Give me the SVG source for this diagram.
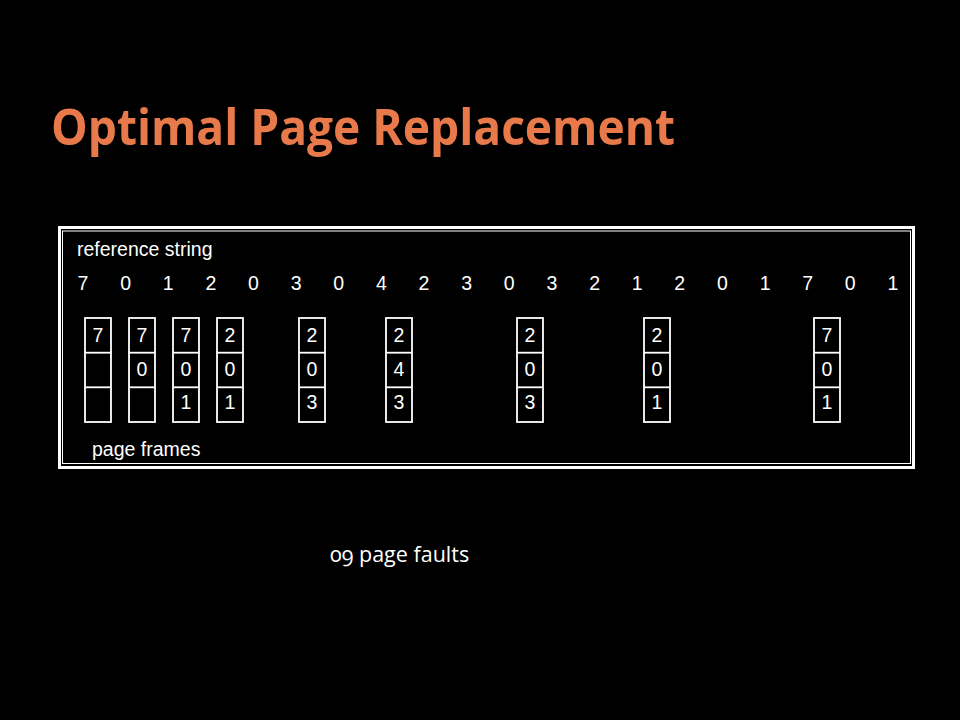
<svg xmlns="http://www.w3.org/2000/svg" width="960" height="720" viewBox="0 0 960 720">
  <style>
    .title { font-family: "Open Sans", "Noto Sans", sans-serif; font-weight: 700; font-size: 50px; fill: #E8794B; }
    .lbl { font-family: "Liberation Sans", Arial, sans-serif; font-size: 19.5px; fill: #ffffff; }
    .ref { font-family: "Liberation Sans", Arial, sans-serif; font-size: 19.5px; fill: #ffffff; text-anchor: middle; }
    .cell { font-family: "Liberation Sans", Arial, sans-serif; font-size: 19.5px; fill: #ffffff; text-anchor: middle; }
    .box { fill: none; stroke: #ffffff; stroke-width: 1.8; }
    .note { font-family: "Open Sans", "Noto Sans", sans-serif; font-size: 21.5px; fill: #ffffff; font-variant-numeric: oldstyle-nums; }
  </style>
  <defs>
    <!-- one column of three page frames -->
    <g id="frameCol">
      <rect class="box" x="0" y="0" width="26" height="104"/>
      <line class="box" x1="0" y1="34.7" x2="26" y2="34.7"/>
      <line class="box" x1="0" y1="69.3" x2="26" y2="69.3"/>
    </g>
  </defs>

  <rect x="0" y="0" width="960" height="720" fill="#000000"/>

  <text class="title" x="51" y="145" textLength="624" lengthAdjust="spacingAndGlyphs">Optimal Page Replacement</text>

  <!-- double border of the panel -->
  <g id="panel">
    <rect x="59.5" y="227.5" width="854" height="240" fill="none" stroke="#ffffff" stroke-width="3"/>
    <rect x="62.5" y="231" width="848" height="232.5" fill="none" stroke="#ffffff" stroke-width="1"/>
  </g>

  <text class="lbl" x="77" y="256">reference string</text>

  <g id="refString">
    <text class="ref" x="83" y="290">7</text>
    <text class="ref" x="125.6" y="290">0</text>
    <text class="ref" x="168.3" y="290">1</text>
    <text class="ref" x="210.9" y="290">2</text>
    <text class="ref" x="253.5" y="290">0</text>
    <text class="ref" x="296.2" y="290">3</text>
    <text class="ref" x="338.8" y="290">0</text>
    <text class="ref" x="381.4" y="290">4</text>
    <text class="ref" x="424" y="290">2</text>
    <text class="ref" x="466.7" y="290">3</text>
    <text class="ref" x="509.3" y="290">0</text>
    <text class="ref" x="551.9" y="290">3</text>
    <text class="ref" x="594.6" y="290">2</text>
    <text class="ref" x="637.2" y="290">1</text>
    <text class="ref" x="679.8" y="290">2</text>
    <text class="ref" x="722.5" y="290">0</text>
    <text class="ref" x="765.1" y="290">1</text>
    <text class="ref" x="807.7" y="290">7</text>
    <text class="ref" x="850.3" y="290">0</text>
    <text class="ref" x="893" y="290">1</text>
  </g>

  <g id="f1" transform="translate(85,318)">
    <use href="#frameCol"/>
    <text class="cell" x="13" y="24">7</text>
  </g>
  <g id="f2" transform="translate(129,318)">
    <use href="#frameCol"/>
    <text class="cell" x="13" y="24">7</text>
    <text class="cell" x="13" y="57.5">0</text>
  </g>
  <g id="f3" transform="translate(173,318)">
    <use href="#frameCol"/>
    <text class="cell" x="13" y="24">7</text>
    <text class="cell" x="13" y="57.5">0</text>
    <text class="cell" x="13" y="91">1</text>
  </g>
  <g id="f4" transform="translate(217,318)">
    <use href="#frameCol"/>
    <text class="cell" x="13" y="24">2</text>
    <text class="cell" x="13" y="57.5">0</text>
    <text class="cell" x="13" y="91">1</text>
  </g>
  <g id="f5" transform="translate(299,318)">
    <use href="#frameCol"/>
    <text class="cell" x="13" y="24">2</text>
    <text class="cell" x="13" y="57.5">0</text>
    <text class="cell" x="13" y="91">3</text>
  </g>
  <g id="f6" transform="translate(386,318)">
    <use href="#frameCol"/>
    <text class="cell" x="13" y="24">2</text>
    <text class="cell" x="13" y="57.5">4</text>
    <text class="cell" x="13" y="91">3</text>
  </g>
  <g id="f7" transform="translate(517,318)">
    <use href="#frameCol"/>
    <text class="cell" x="13" y="24">2</text>
    <text class="cell" x="13" y="57.5">0</text>
    <text class="cell" x="13" y="91">3</text>
  </g>
  <g id="f8" transform="translate(644,318)">
    <use href="#frameCol"/>
    <text class="cell" x="13" y="24">2</text>
    <text class="cell" x="13" y="57.5">0</text>
    <text class="cell" x="13" y="91">1</text>
  </g>
  <g id="f9" transform="translate(814,318)">
    <use href="#frameCol"/>
    <text class="cell" x="13" y="24">7</text>
    <text class="cell" x="13" y="57.5">0</text>
    <text class="cell" x="13" y="91">1</text>
  </g>

  <text class="lbl" x="92" y="456">page frames</text>

  <text class="note" x="330" y="562">09 page faults</text>
</svg>
